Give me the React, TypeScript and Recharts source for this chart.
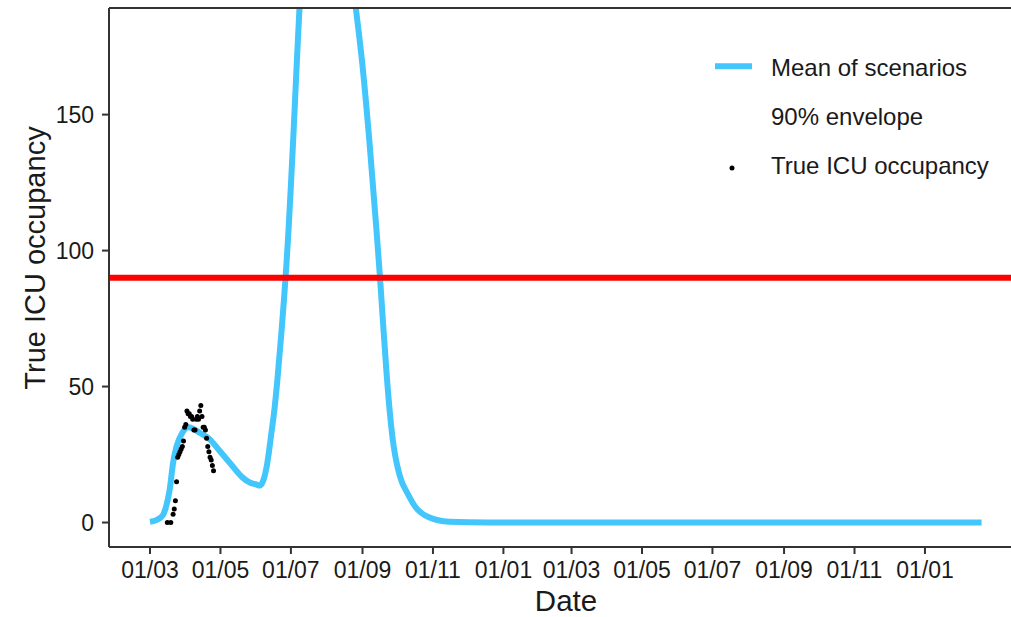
import { ComposedChart, Line, Scatter, XAxis, YAxis, ReferenceLine, Customized } from "recharts"

const FONT = '"Liberation Sans", Arial, Helvetica, sans-serif'
const BLUE = "#43C6FC"
const DAY = 86400000
const START = Date.UTC(2020, 2, 1)

// mean of scenarios, days since 2020-03-01
const meanDays = [
  0, 6, 11, 14, 17, 20, 23, 28, 33, 37, 43, 52, 60, 69, 80, 86, 92, 95, 97, 99, 101, 103, 105,
  108, 110, 112, 114, 116, 118, 120, 122, 124, 126, 128, 130, 132, 136, 142, 150, 158, 165,
  172, 178, 184, 190, 196, 199, 202, 205, 208, 211, 214, 218, 222, 230, 241, 259, 293, 720,
]
const meanValues = [
  0.3, 1, 2.6, 6, 12, 22, 28, 33, 35, 34.6, 33, 30.5, 26.5, 22, 16.6, 14.8, 14, 13.6, 14.4,
  16.7, 20.5, 26, 32.5, 42.5, 51, 61, 71, 82, 94, 108, 124, 141, 159, 177, 194, 210, 232, 250,
  258, 252, 236, 212, 190, 168, 140, 108, 91, 72, 54, 39, 28, 21, 15, 11.5, 5.6, 2, 0.3, 0, 0,
]

// observed ICU occupancy
const obsDays = [
  15, 18, 20, 21, 22, 23, 24, 25, 26, 27, 28, 29, 30, 31, 32, 33, 34, 35, 36, 37, 38, 39, 40,
  41, 42, 43, 44, 45, 46, 47, 48, 49, 50, 51, 52, 53, 54, 55,
]
const obsValues = [
  0, 0, 3, 5, 8, 15, 24, 25, 26, 27, 28, 30, 35, 36, 41, 40, 40, 39, 39, 38, 34, 34, 38, 39,
  38, 41, 43, 39, 35, 35, 34, 31, 28, 26, 24, 23, 21, 19,
]

const tickDates = [
  "2020-03-01", "2020-05-01", "2020-07-01", "2020-09-01", "2020-11-01", "2021-01-01",
  "2021-03-01", "2021-05-01", "2021-07-01", "2021-09-01", "2021-11-01", "2022-01-01",
]
const yTicks = [0, 50, 100, 150]
const capacity = 90

const toT = (d: number) => START + d * DAY
const meanData = meanDays.map((d, i) => ({ t: toT(d), v: meanValues[i] }))
const obsData = obsDays.map((d, i) => ({ t: toT(d), v: obsValues[i] }))
const xTicks = tickDates.map((s) => Date.parse(s))
const xDomain = [toT(-35.5), toT(745.5)]
const yDomain = [-9, 189.2]

const pad = (n: number) => String(n).padStart(2, "0")
const fmtDate = (t: number) => {
  const d = new Date(t)
  return `${pad(d.getUTCDate())}/${pad(d.getUTCMonth() + 1)}`
}

const Dot = (props: any) => <circle cx={props.cx} cy={props.cy} r={2.5} fill="#000" />

const Extras = () => (
  <g fontFamily={FONT} fill="#1a1a1a">
    <text x={566} y={611} fontSize={29.5} textAnchor="middle">Date</text>
    <text transform="translate(45, 258) rotate(-90)" fontSize={29} textAnchor="middle">
      True ICU occupancy
    </text>
    <line x1={715} x2={752} y1={66.3} y2={66.3} stroke={BLUE} strokeWidth={6} />
    <text x={771} y={76} fontSize={24}>Mean of scenarios</text>
    <text x={771} y={125} fontSize={24}>90% envelope</text>
    <circle cx={732} cy={168} r={2.5} fill="#000" />
    <text x={771} y={173.5} fontSize={24}>True ICU occupancy</text>
  </g>
)

const tickStyle = { fill: "#1a1a1a", fontSize: 23, fontFamily: FONT }

export default function App() {
  return (
    <div style={{ position: "absolute", left: 0, top: 0, width: 1011, height: 617, background: "#fff" }}>
      <ComposedChart width={1011} height={617} margin={{ top: 8, right: 0, bottom: 0, left: 0 }}>
        <XAxis
          type="number"
          dataKey="t"
          domain={xDomain}
          allowDataOverflow
          ticks={xTicks}
          interval={0}
          tickFormatter={fmtDate}
          height={70}
          tickSize={7}
          tickMargin={8}
          axisLine={{ stroke: "#333", strokeWidth: 2 }}
          tickLine={{ stroke: "#333", strokeWidth: 2 }}
          tick={tickStyle}
        />
        <YAxis
          type="number"
          dataKey="v"
          domain={yDomain}
          allowDataOverflow
          ticks={yTicks}
          interval={0}
          width={109}
          tickSize={7}
          tickMargin={8}
          axisLine={{ stroke: "#333", strokeWidth: 2 }}
          tickLine={{ stroke: "#333", strokeWidth: 2 }}
          tick={tickStyle}
        />
        <Line
          data={meanData}
          dataKey="v"
          type="monotone"
          stroke={BLUE}
          strokeWidth={6}
          dot={false}
          isAnimationActive={false}
        />
        <Scatter data={obsData} dataKey="v" shape={Dot} isAnimationActive={false} />
        <ReferenceLine y={capacity} stroke="#FF0000" strokeWidth={6} />
        <ReferenceLine y={yDomain[1]} stroke="#333" strokeWidth={2} />
        <Customized component={Extras} />
      </ComposedChart>
    </div>
  )
}
